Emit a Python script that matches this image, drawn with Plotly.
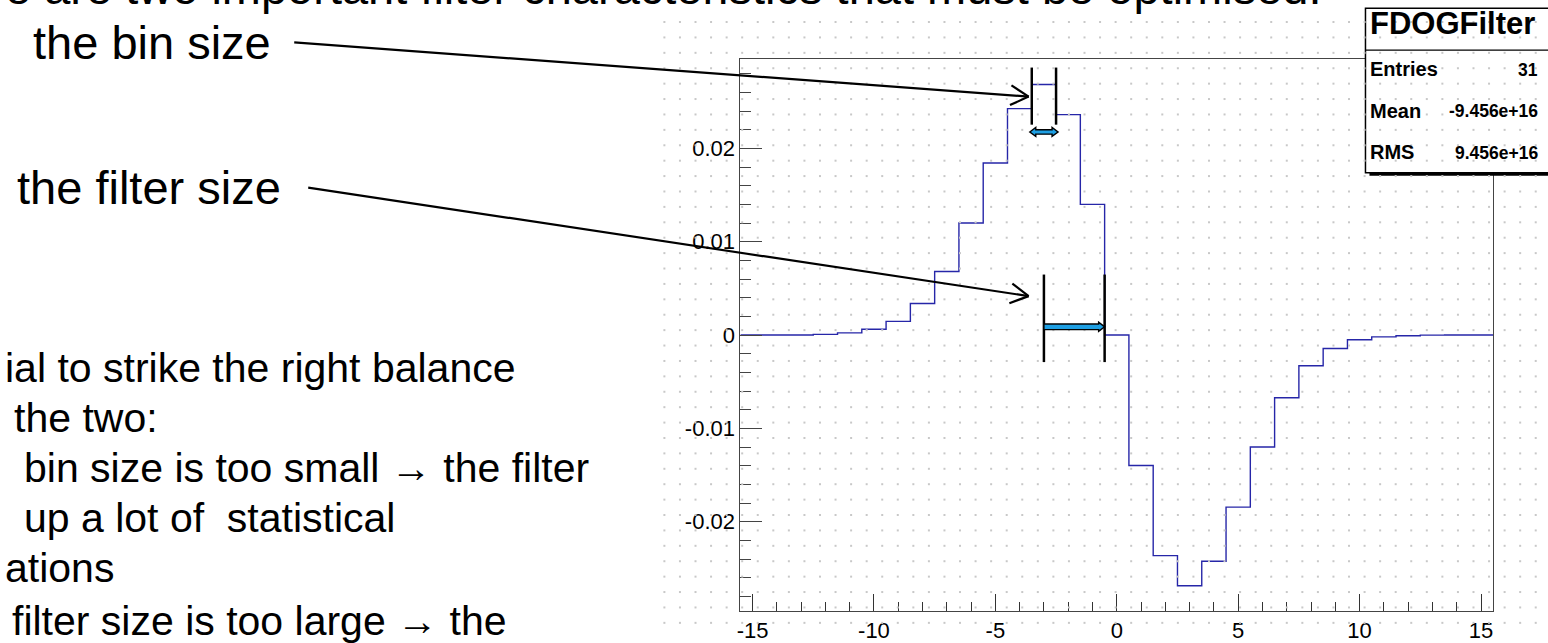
import plotly.graph_objects as go
import numpy as np

# ---------------- data ----------------
bin_centers = list(range(-15, 16))
bin_values = [0.0, 0.000003, 0.00001, 0.00007, 0.00023, 0.00062, 0.00146, 0.00338,
              0.00680, 0.01200, 0.01843, 0.02426, 0.02684, 0.02362, 0.01400,
              0.0,
              -0.01398, -0.02364, -0.02686, -0.02424, -0.01844, -0.01200, -0.00672,
              -0.00329, -0.00145, -0.00050, -0.00020, -0.00007, -0.00001, -0.000003, 0.0]
x_tick_vals = [-15, -10, -5, 0, 5, 10, 15]
x_tick_text = ["-15", "-10", "-5", "0", "5", "10", "15"]
y_tick_vals = [-0.02, -0.01, 0.0, 0.01, 0.02]
y_tick_text = ["-0.02", "-0.01", "0", "0.01", "0.02"]
stats_title = "FDOGFilter"
stats_labels = ["Entries", "Mean", "RMS"]
stats_values = ["31", "-9.456e+16", "9.456e+16"]
slide_lines = [
    "e are two important filter characteristics that must be optimised:",
    "the bin size",
    "the filter size",
    "ial to strike the right balance",
    "the two:",
    "bin size is too small \u2192 the filter",
    "up a lot of  statistical",
    "ations",
    "filter size is too large \u2192 the",
]
# markers drawn on the histogram (data coordinates)
bin_marker_x = [-3.5, -2.5]
bin_marker_y = [0.02866, 0.02254]
bin_arrow_y = 0.02176
filter_marker_x = [-3.0, -0.5]
filter_marker_y = [0.00648, -0.0029]
filter_arrow_y = 0.00088
pointer_tip = [(-3.63, 0.02555), (-3.63, 0.00417)]

# ---------------- geometry ----------------
W, H = 1548, 643
PL, PR, PT, PB = 738.3, 1493.0, 60.0, 618.5
XR = [-15.5, 15.5]
YR = [-0.02955, 0.02955]


def px(x):
    return PL + (x - XR[0]) / (XR[1] - XR[0]) * (PR - PL)


def py(y):
    return PB - (y - YR[0]) / (YR[1] - YR[0]) * (PB - PT)


FONT = "Liberation Sans, Arial, Helvetica, sans-serif"
BLUE = "#2626a8"

fig = go.Figure()

# histogram as steps through bin edges
edges = [c - 0.5 for c in bin_centers] + [bin_centers[-1] + 0.5]
steps = bin_values + [bin_values[-1]]
fig.add_trace(go.Scatter(x=edges, y=steps, mode="lines", line_shape="hv",
                         line=dict(color=BLUE, width=1.4), hoverinfo="skip",
                         showlegend=False, xaxis="x", yaxis="y"))

# canvas editor dot grid (decoration) on a full-figure pixel overlay
gx = np.arange(662.1, W, 15.6)
gy = np.arange(22.3, H, 15.6)
GX, GY = np.meshgrid(gx, gy)
fig.add_trace(go.Scatter(x=GX.ravel(), y=GY.ravel(), mode="markers",
                         marker=dict(size=2, color="#c8c8c8", symbol="square", line=dict(width=0)),
                         hoverinfo="skip", showlegend=False, xaxis="x2", yaxis="y2"))

shapes = []

# stats box
shapes.append(dict(type="rect", xref="x2", yref="y2", x0=1369, x1=1580, y0=172, y1=178,
                   fillcolor="black", line=dict(width=0), layer="below"))
shapes.append(dict(type="rect", xref="x2", yref="y2", x0=1365, x1=1580, y0=8.3, y1=175,
                   fillcolor="white", line=dict(color="black", width=1.5), layer="below"))
shapes.append(dict(type="line", xref="x2", yref="y2", x0=1365, x1=1548, y0=50.7, y1=50.7,
                   line=dict(color="black", width=1.2), layer="below"))


def seg(x0, y0, x1, y1, w=2.2, c="black"):
    shapes.append(dict(type="line", xref="x2", yref="y2", x0=x0, y0=y0, x1=x1, y1=y1,
                       line=dict(color=c, width=w), layer="above"))


# pointer lines from the text to the chart, with open V heads
starts = [(291, 43), (305, 190)]
for (sx, sy), (tx, ty) in zip(starts, pointer_tip):
    TX, TY = px(tx), py(ty)
    seg(sx, sy, TX, TY)
    dx, dy = TX - sx, TY - sy
    L = (dx * dx + dy * dy) ** 0.5
    ux, uy = dx / L, dy / L
    nx, ny = -uy, ux
    for s in (1, -1):
        seg(TX, TY, TX - 18 * ux + s * 10 * nx, TY - 18 * uy + s * 10 * ny)

# vertical bracket lines
for xm in bin_marker_x:
    seg(px(xm), py(bin_marker_y[0]), px(xm), py(bin_marker_y[1]), w=2.5)
for xm in filter_marker_x:
    seg(px(xm), py(filter_marker_y[0]), px(xm), py(filter_marker_y[1]), w=2.5)


def blue_arrow(x0, x1, cy, double, h1, h2, hl):
    if double:
        p = (f"M{x0},{cy} L{x0+hl},{cy-h2} L{x0+hl},{cy-h1} L{x1-hl},{cy-h1} L{x1-hl},{cy-h2} "
             f"L{x1},{cy} L{x1-hl},{cy+h2} L{x1-hl},{cy+h1} L{x0+hl},{cy+h1} L{x0+hl},{cy+h2} Z")
    else:
        p = (f"M{x0},{cy-h1} L{x1-hl},{cy-h1} L{x1-hl},{cy-h2} L{x1},{cy} "
             f"L{x1-hl},{cy+h2} L{x1-hl},{cy+h1} L{x0},{cy+h1} Z")
    shapes.append(dict(type="path", xref="x2", yref="y2", path=p, fillcolor="#1e9fe3",
                       line=dict(color="black", width=1.4), layer="above"))


blue_arrow(px(bin_marker_x[0]) - 2, px(bin_marker_x[1]) + 2, py(bin_arrow_y), True, 2.2, 4.5, 6)
blue_arrow(px(filter_marker_x[0]), px(filter_marker_x[1]), py(filter_arrow_y), False, 2.8, 4.6, 6)

# ---------------- annotations: slide text ----------------
ann = []


def text_at(t, x, baseline, size, bold=False, anchor="left", family=FONT):
    # choose a vertical anchor whose reference point stays inside the page
    bottom = baseline + 0.212 * size
    top = baseline - 0.905 * size
    if bottom <= H - 1:
        y, ya = bottom, "bottom"
    else:
        y, ya = top, "top"
    ann.append(dict(text=(f"<b>{t}</b>" if bold else t), x=x, y=y,
                    xref="x2", yref="y2", xanchor=anchor, yanchor=ya, showarrow=False,
                    font=dict(family=family, size=size, color="black"), borderpad=0))


slide_pos = [(0, 5, 47), (28, 61, 47), (12, 208, 47),
             (0, 388, 41), (9, 438.6, 41), (19, 489, 41), (19, 540, 41), (0, 591, 41), (7, 641.5, 41)]
for t, (x, b, s) in zip(slide_lines, slide_pos):
    text_at(t, x, b, s)

# stats box text
text_at(stats_title, 1369, 36, 31, bold=True)
for i, (lab, val) in enumerate(zip(stats_labels, stats_values)):
    base = 78 + i * 42
    text_at(lab, 1369, base, 20, bold=True)
    text_at(val, 1539, base, 17.5, bold=True, anchor="right")

fig.update_layout(
    width=W, height=H, margin=dict(l=0, r=0, t=0, b=0),
    paper_bgcolor="white", plot_bgcolor="rgba(0,0,0,0)",
    showlegend=False, shapes=shapes, annotations=ann,
    xaxis=dict(domain=[PL / W, PR / W], range=XR, anchor="y",
               showgrid=False, zeroline=False, showline=True, mirror=True,
               linecolor="#444", linewidth=1,
               ticks="inside", ticklen=17, tickcolor="#333", tickwidth=1,
               tickvals=x_tick_vals, ticktext=x_tick_text,
               minor=dict(dtick=1, tick0=0, ticks="inside", ticklen=9, tickcolor="#333", tickwidth=1),
               tickfont=dict(family=FONT, size=22, color="black")),
    yaxis=dict(domain=[1 - PB / H, 1 - PT / H], range=YR, anchor="x",
               showgrid=False, zeroline=False, showline=True, mirror=True,
               linecolor="#444", linewidth=1,
               ticks="inside", ticklen=22, tickcolor="#444", tickwidth=1,
               tickvals=y_tick_vals, ticktext=y_tick_text,
               minor=dict(dtick=0.002, tick0=0, ticks="inside", ticklen=11, tickcolor="#444", tickwidth=1),
               tickfont=dict(family=FONT, size=22, color="black")),
    xaxis2=dict(domain=[0, 1], range=[0, W], anchor="y2", visible=False, fixedrange=True),
    yaxis2=dict(domain=[0, 1], range=[H, 0], anchor="x2", visible=False, fixedrange=True),
)

fig.write_html("out.html")
